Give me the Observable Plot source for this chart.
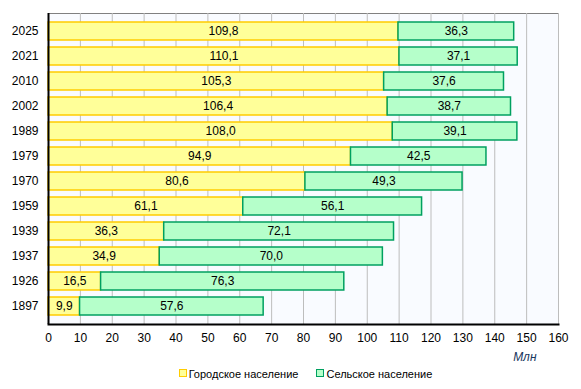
<!DOCTYPE html>
<html>
<head>
<meta charset="utf-8">
<script src="https://cdn.jsdelivr.net/npm/d3@7"></script>
<script src="https://cdn.jsdelivr.net/npm/@observablehq/plot@0.6"></script>
<style>
  body { margin: 0; background: #fff; font-family: "Liberation Sans", Arial, sans-serif; }
  #chart { width: 581px; }
  .legend { display: flex; justify-content: center; gap: 18px; font-size: 11px; color: #000; margin-top: 3px; padding-left: 30px; }
  .legend span.sw { display: inline-block; width: 6px; height: 6px; border: 1px solid; margin-right: 2px; vertical-align: 1px; }
</style>
</head>
<body>
<div id="chart"></div>
<script>
const years = ["2025", "2021", "2010", "2002", "1989", "1979", "1970", "1959", "1939", "1937", "1926", "1897"];
const urban = [109.8, 110.1, 105.3, 106.4, 108.0, 94.9, 80.6, 61.1, 36.3, 34.9, 16.5, 9.9];
const rural = [36.3, 37.1, 37.6, 38.7, 39.1, 42.5, 49.3, 56.1, 72.1, 70.0, 76.3, 57.6];
const seriesNames = ["Городское население", "Сельское население"];
const xTicks = [0, 10, 20, 30, 40, 50, 60, 70, 80, 90, 100, 110, 120, 130, 140, 150, 160];
const unitLabel = "Млн";

const fills = ["#ffff99", "#b5ffca"];
const strokes = ["#ffcc00", "#00a060"];

const rows = [];
years.forEach((y, i) => {
  rows.push({year: y, type: seriesNames[0], value: urban[i]});
  rows.push({year: y, type: seriesNames[1], value: rural[i]});
});
const fmt = v => v.toFixed(1).replace(".", ",");

const chart = Plot.plot({
  width: 581,
  height: 365,
  marginLeft: 48,
  marginRight: 23,
  marginTop: 13,
  marginBottom: 41,
  style: {fontFamily: "'Liberation Sans', Arial, sans-serif", fontSize: "12px", color: "#000", background: "#fff"},
  x: {domain: [0, 160], ticks: xTicks, label: null, tickSize: 0, tickPadding: 9},
  y: {domain: years, padding: 0.3, label: null, tickSize: 0, tickPadding: 10},
  color: {domain: seriesNames, range: fills},
  marks: [
    Plot.frame({fill: "#f9fbff", stroke: "#808080"}),
    Plot.gridX(xTicks, {stroke: "#bdbdbd", strokeOpacity: 1}),
    Plot.barX(rows, Plot.stackX({x: "value", y: "year", fill: "type", stroke: d => d.type === seriesNames[0] ? strokes[0] : strokes[1], strokeWidth: 1.5, inset: 0})),
    Plot.text(rows, Plot.stackX({x: "value", y: "year", text: d => fmt(d.value), fill: "#000", fontSize: 12})),
    Plot.ruleX([0], {stroke: "#000", strokeWidth: 2}),
    Plot.frame({anchor: "bottom", stroke: "#000", strokeWidth: 2}),
    Plot.text([unitLabel], {frameAnchor: "bottom-right", dx: -22, dy: 36, textAnchor: "end", fontStyle: "italic", fill: "#17365d", fontSize: 12})
  ]
});
document.getElementById("chart").appendChild(chart);

const legend = document.createElement("div");
legend.className = "legend";
seriesNames.forEach((name, i) => {
  const item = document.createElement("div");
  const sw = document.createElement("span");
  sw.className = "sw";
  sw.style.background = fills[i];
  sw.style.borderColor = strokes[i];
  item.appendChild(sw);
  item.appendChild(document.createTextNode(name));
  legend.appendChild(item);
});
document.getElementById("chart").appendChild(legend);
</script>
</body>
</html>
